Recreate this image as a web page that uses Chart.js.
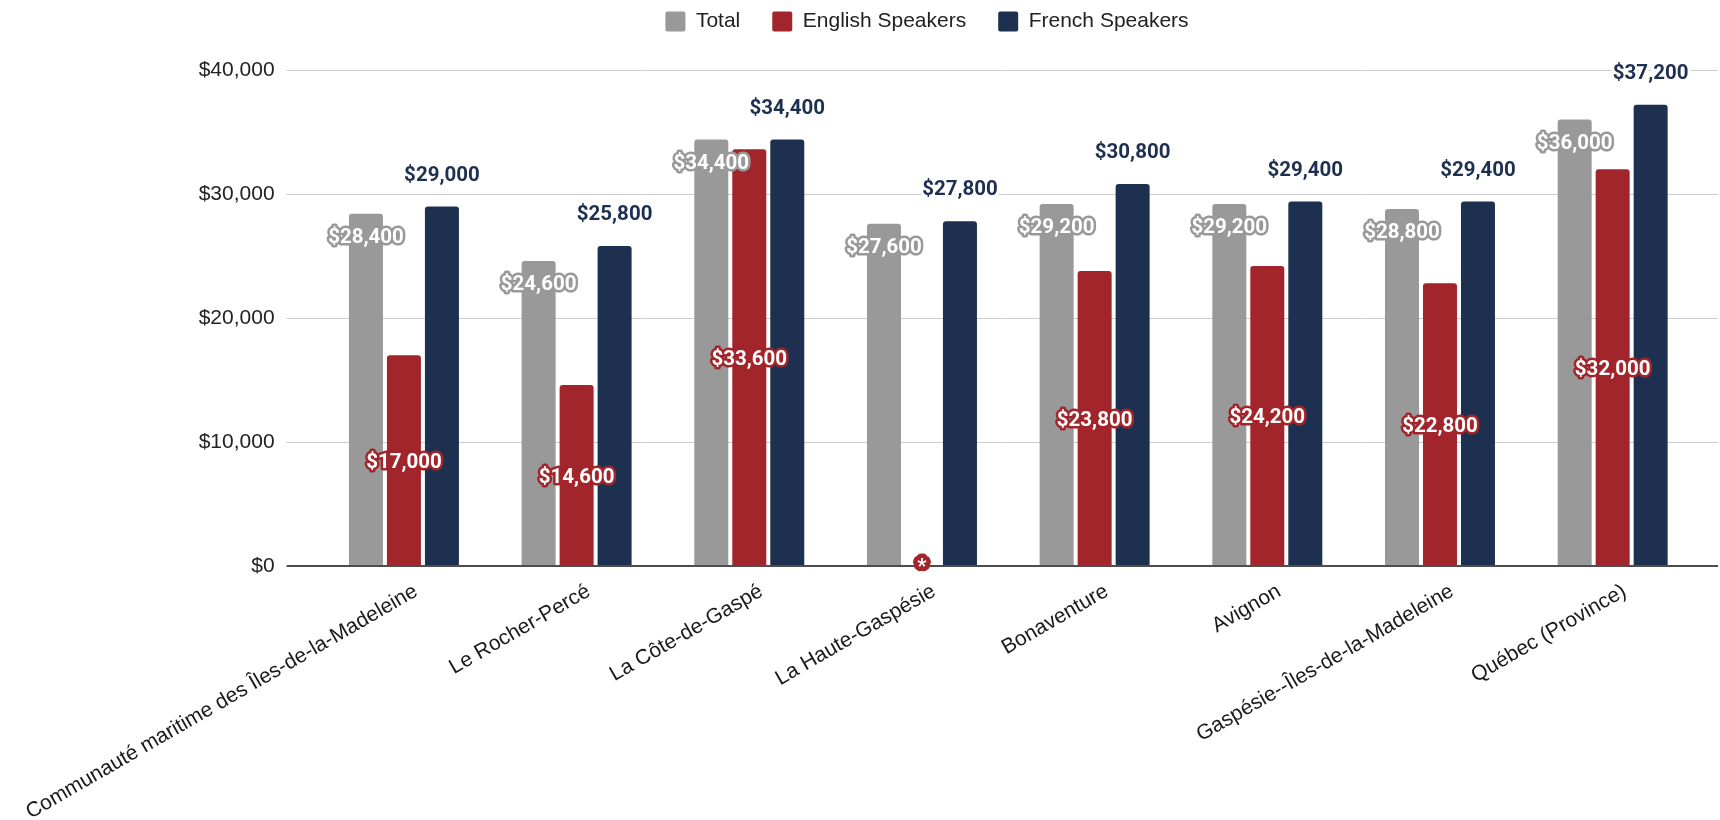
<!DOCTYPE html>
<html>
<head>
<meta charset="utf-8">
<script src="https://cdn.jsdelivr.net/npm/chart.js@4.4.1/dist/chart.umd.min.js"></script>
<style>
  html, body { margin: 0; padding: 0; background: #fff; }
  #wrap { width: 1720px; height: 820px; position: relative; }
</style>
</head>
<body>
<div id="wrap"><canvas id="income-chart"></canvas></div>
<script>
// Revenu médian par région, total vs anglophones vs francophones

const regions = [
  'Communauté maritime des Îles-de-la-Madeleine',
  'Le Rocher-Percé',
  'La Côte-de-Gaspé',
  'La Haute-Gaspésie',
  'Bonaventure',
  'Avignon',
  'Gaspésie--Îles-de-la-Madeleine',
  'Québec (Province)'
];
const totalIncome   = [28400, 24600, 34400, 27600, 29200, 29200, 28800, 36000];
const englishIncome = [17000, 14600, 33600, 0,     23800, 24200, 22800, 32000];
const frenchIncome  = [29000, 25800, 34400, 27800, 30800, 29400, 29400, 37200];
const yTicks = [0, 10000, 20000, 30000, 40000];

const GREY = '#999999';
const RED = '#a2252b';
const NAVY = '#1d3050';

function money(v) {
  return '$' + v.toLocaleString('en-US');
}

// horizontal grid lines run a bit past the bar area on both sides
const gridLines = {
  id: 'gridLines',
  beforeDatasetsDraw(chart) {
    const { ctx, chartArea, scales: { y } } = chart;
    ctx.save();
    ctx.strokeStyle = '#cccccc';
    ctx.lineWidth = 1;
    yTicks.forEach(v => {
      if (v === 0) return;
      const py = Math.round(y.getPixelForValue(v)) + 0.5;
      ctx.beginPath();
      ctx.moveTo(chartArea.left - 31, py);
      ctx.lineTo(chartArea.right + 19, py);
      ctx.stroke();
    });
    ctx.restore();
  },
  afterDatasetsDraw(chart) {
    const { ctx, chartArea, scales: { y } } = chart;
    const py = Math.round(y.getPixelForValue(0));
    ctx.save();
    ctx.strokeStyle = '#4d4d4d';
    ctx.lineWidth = 2;
    ctx.beginPath();
    ctx.moveTo(chartArea.left - 31, py);
    ctx.lineTo(chartArea.right + 19, py);
    ctx.stroke();
    ctx.restore();
  }
};

const valueLabels = {
  id: 'valueLabels',
  afterDatasetsDraw(chart) {
    const ctx = chart.ctx;
    ctx.save();
    ctx.font = 'bold 20.5px Roboto';
    ctx.textAlign = 'center';
    ctx.textBaseline = 'middle';
    ctx.lineJoin = 'round';
    chart.data.datasets.forEach((ds, i) => {
      chart.getDatasetMeta(i).data.forEach((bar, j) => {
        const v = ds.data[j];
        let text = money(v);
        let y, fill, stroke, lw;
        if (i === 0) {
          y = bar.y + 24; fill = '#ffffff'; stroke = GREY; lw = 5;
        } else if (i === 1) {
          y = (bar.y + bar.base) / 2 + 2; fill = '#ffffff'; stroke = RED; lw = 5;
          if (v === 0) { text = '*'; lw = 9; y = bar.base + 2; }
        } else {
          y = bar.y - 31; fill = NAVY; stroke = '#ffffff'; lw = 6;
        }
        ctx.lineWidth = lw;
        ctx.strokeStyle = stroke;
        ctx.strokeText(text, bar.x, y);
        ctx.fillStyle = fill;
        ctx.fillText(text, bar.x, y);
      });
    });
    ctx.restore();
  }
};

Chart.defaults.font.family = "'Liberation Sans', Arial, sans-serif";
Chart.defaults.color = '#222';

const barStyle = {
  barPercentage: 0.895,
  categoryPercentage: 0.66,
  borderRadius: { topLeft: 3, topRight: 3, bottomLeft: 0, bottomRight: 0 },
  borderSkipped: false
};

const ctx = document.getElementById('income-chart').getContext('2d');
new Chart(ctx, {
  type: 'bar',
  data: {
    labels: regions,
    datasets: [
      { label: 'Total', data: totalIncome, backgroundColor: GREY, ...barStyle },
      { label: 'English Speakers', data: englishIncome, backgroundColor: RED, ...barStyle },
      { label: 'French Speakers', data: frenchIncome, backgroundColor: NAVY, ...barStyle }
    ]
  },
  options: {
    responsive: true,
    maintainAspectRatio: false,
    animation: false,
    layout: { padding: { left: 155, right: 21, top: -21, bottom: 0 } },
    plugins: {
      legend: {
        position: 'top',
        labels: {
          boxWidth: 20,
          boxHeight: 20,
          padding: 32,
          color: '#222',
          font: { size: 21 },
          useBorderRadius: true,
          borderRadius: 2
        }
      },
      // empty title used as a gap between the legend and the plot
      title: {
        display: true,
        text: '',
        weight: 500,
        padding: 0,
        font: { size: 1, lineHeight: 28 }
      },
      tooltip: { enabled: false }
    },
    scales: {
      x: {
        grid: { display: false },
        border: { display: false },
        ticks: {
          autoSkip: false,
          minRotation: 30,
          maxRotation: 30,
          padding: 5,
          labelOffset: 12,
          color: '#1a1a1a',
          font: { size: 21 }
        },
        afterFit(scale) {
          scale.height = 254;
          scale.paddingLeft = 0;
          scale.paddingRight = 0;
        }
      },
      y: {
        min: 0,
        max: 40000,
        grid: { display: false, drawTicks: false },
        border: { display: false },
        ticks: {
          stepSize: 10000,
          padding: 43,
          color: '#222',
          font: { size: 21 },
          callback: v => money(v)
        },
        afterFit(scale) {
          scale.width = 162.6;
        }
      }
    }
  },
  plugins: [gridLines, valueLabels]
});
</script>
</body>
</html>
